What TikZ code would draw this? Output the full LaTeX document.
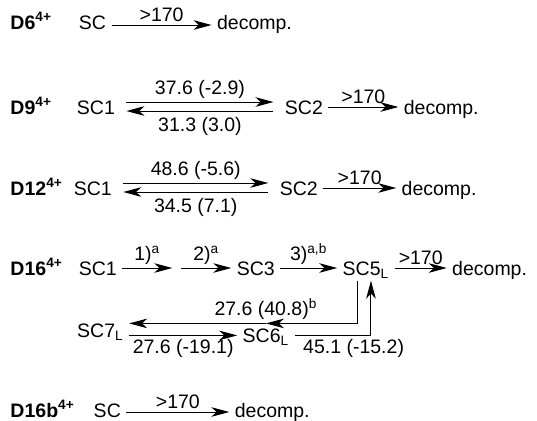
\documentclass[tikz,border=0pt]{standalone}
\usepackage{fontspec}
\setmainfont{Liberation Sans}
\usepackage{tikz}
\usetikzlibrary{positioning, arrows.meta}

\begin{document}
\begin{tikzpicture}[node distance=10pt, font=\fontsize{9.75}{11}\selectfont, line width=0.5pt]
	\tikzstyle{species} = [inner sep=2.5pt, text height=0.72em, text depth=0pt]
	
	\tikzstyle{compound} = [species, anchor=west, font=\fontsize{9.75}{11}\selectfont\bfseries]
	
	\tikzstyle{cond} = [inner sep=1.5pt]
	
	\tikzstyle{arrow} = [->, >={Stealth[length=9pt, width=4.8pt, inset=2.6pt]}]
	\tikzstyle{eq} = [arrow, shorten <=3pt, shorten >=3pt]
	
	\useasboundingbox (0,0) rectangle (268.5pt,-210pt);
	
	% D6
	\node (d6) [compound] at (2.5pt,-11pt) {D6\textsuperscript{4+}};
	\node (d6sc) [species, right=8pt of d6] {SC};
	\node (d6dec) [species, right=50pt of d6sc] {decomp.};
	
	\draw [arrow] ([yshift=-1.5pt]d6sc.east) -- node[cond, above] {>170} ([yshift=-1.5pt]d6dec.west);
	
	% D9
	\node (d9) [compound] at (2.5pt,-53.5pt) {D9\textsuperscript{4+}};
	\node (d9a) [species, right=7pt of d9] {SC1};
	\node (d9b) [species, right=79.5pt of d9a] {SC2};
	\node (d9dec) [species, right=35pt of d9b] {decomp.};
	
	\draw [eq] ([yshift=2.5pt]d9a.east) -- node[cond, above] {37.6 (-2.9)} ([yshift=2.5pt]d9b.west);
	\draw [eq] ([yshift=-2pt]d9b.west) -- node[cond, below=1.5pt] {31.3 (3.0)} ([yshift=-2pt]d9a.east);
	\draw [arrow] (d9b) -- node[cond, above] {>170} (d9dec);
	
	% D12
	\node (d12) [compound] at (2.5pt,-94pt) {D12\textsuperscript{4+}};
	\node (d12a) [species, right=0pt of d12] {SC1};
	\node (d12b) [species, right=78.5pt of d12a] {SC2};
	\node (d12dec) [species, right=36.5pt of d12b] {decomp.};
	
	\draw [eq] ([yshift=2.5pt]d12a.east) -- node[cond, above] {48.6 (-5.6)} ([yshift=2.5pt]d12b.west);
	\draw [eq] ([yshift=-2pt]d12b.west) -- node[cond, below=1.5pt] {34.5 (7.1)} ([yshift=-2pt]d12a.east);
	\draw [arrow] (d12b) -- node[cond, above] {>170} (d12dec);
	
	% D16
	\node (d16) [compound] at (2.5pt,-134pt) {D16\textsuperscript{4+}};
	\node (d16a) [species, right=2.5pt of d16] {SC1};
	\coordinate [right=27.25pt of d16a] (d16skip);
	\node (d16c) [species, right=27.25pt of d16skip] {SC3};
	\node (d16e) [species, right=28.5pt of d16c] {SC5\textsubscript{L}};
	\node (d16dec) [species, right=26pt of d16e] {decomp.};
	\node (d16f) [species, below=21pt of d16e, xshift=-50pt] {SC6\textsubscript{L}};
	\node (d16g) [species, left=54pt of d16f, yshift=2.5pt] {SC7\textsubscript{L}};
	
	\draw [arrow] (d16a) -- node[cond, above] {1)\textsuperscript{a}} ([xshift=-2.25pt]d16skip);
	\draw [arrow] ([xshift=2.25pt]d16skip) -- node[cond, above] {2)\textsuperscript{a}} (d16c);
	\draw [arrow] (d16c) -- node[cond, above] {3)\textsuperscript{a,b}} (d16e);
	\draw [arrow] (d16e) -- node[cond, above] {>170} (d16dec);
	
	% loop below SC5
	\coordinate (d16top) at ([yshift=3.5pt]d16g.east);
	\coordinate (d16back) at (d16f |- d16top);
	\draw [arrow] ([xshift=-4pt]d16e.south) |- (d16back);
	\draw [arrow] (d16back) -- (d16top);
	\node (d16k) [cond, above=0pt of d16back] {27.6 (40.8)\textsuperscript{b}};
	\draw [arrow] (d16g.east |- d16f) -- node[cond, below] {27.6 (-19.1)} (d16f);
	\draw [arrow] (d16f) -| ([xshift=2.5pt]d16e.south);
	\node (d16m) [cond, below right=0pt and 2.5pt of d16f.east] {45.1 (-15.2)};
	
	% D16b
	\node (d16b) [compound] at (2.5pt,-205pt) {D16b\textsuperscript{4+}};
	\node (d16bsc) [species, right=4pt of d16b] {SC};
	\node (d16bdec) [species, right=51.5pt of d16bsc] {decomp.};
	
	\draw [arrow] ([yshift=-1pt]d16bsc.east) -- node[cond, above] {>170} ([yshift=-1pt]d16bdec.west);
\end{tikzpicture}
\end{document}
